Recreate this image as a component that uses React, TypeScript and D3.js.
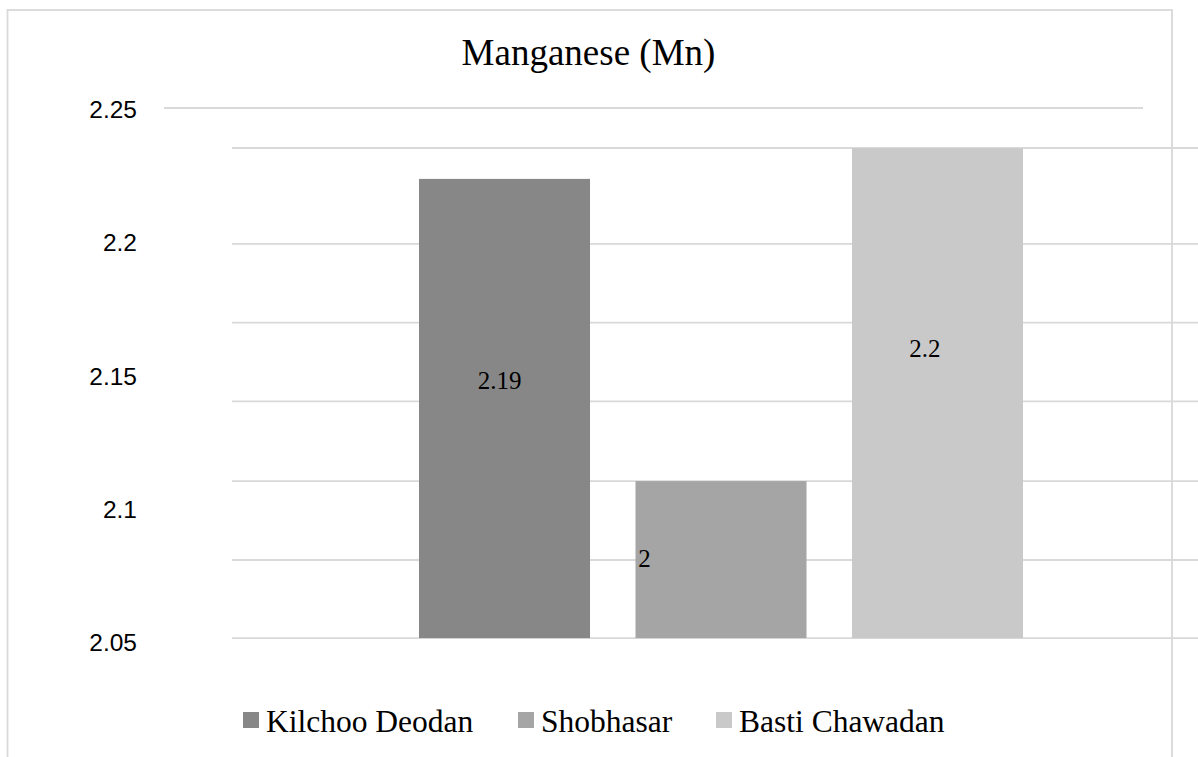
import React from "react";
import * as d3 from "d3";

const title = "Manganese (Mn)";
const categories = ["Kilchoo Deodan", "Shobhasar", "Basti Chawadan"];
const barValues = [2.2234, 2.11, 2.2349];
const dataLabels = ["2.19", "2", "2.2"];
const yTicks = [2.05, 2.1, 2.15, 2.2, 2.25];
const innerGrid = [2.0511, 2.0804, 2.11, 2.1399, 2.1695, 2.199, 2.235];
const barBase = 2.0511;
const colors = ["#878787", "#a5a5a5", "#c9c9c9"];

const W = 1198;
const H = 757;
const SERIF = "'Times New Roman', 'Liberation Serif', serif";
const SANS = "Arial, 'Liberation Sans', sans-serif";
const GRID = "#d9d9d9";

// layout constants (label placement as in the source figure)
const labelDx = [-5, -76.5, -12.5];
const labelBaseline = [389, 567, 357];
const legendX = [243, 518, 716];

export default function App() {
  const y = d3.scaleLinear().domain([2.05, 2.25]).range([641, 108]);
  const x = d3
    .scaleBand<string>()
    .domain(categories)
    .range([419, 1023])
    .paddingInner(0.21)
    .paddingOuter(0);

  return (
    <svg
      width={W}
      height={H}
      style={{ position: "absolute", left: 0, top: 0, background: "#fff" }}
    >
      <rect x={0} y={0} width={W} height={H} fill="#fff" />
      {/* outer chart border */}
      <rect x={7.5} y={10} width={1164.5} height={800} fill="none" stroke={GRID} strokeWidth={1.8} />
      {/* title */}
      <text x={588.5} y={65} textAnchor="middle" fontFamily={SERIF} fontSize={37} fill="#000">
        {title}
      </text>
      {/* outer axis: top gridline */}
      <line x1={164} x2={1143} y1={y(2.25)} y2={y(2.25)} stroke={GRID} strokeWidth={1.8} />
      {/* tick labels */}
      {yTicks.map((t) => (
        <text key={t} x={137} y={y(t) + 10} textAnchor="end" fontFamily={SANS} fontSize={24.5} fill="#000">
          {String(t)}
        </text>
      ))}
      {/* inner gridlines */}
      {innerGrid.map((g) => (
        <line key={g} x1={232} x2={W} y1={y(g)} y2={y(g)} stroke={GRID} strokeWidth={1.8} />
      ))}
      {/* bars */}
      {categories.map((c, i) => (
        <rect
          key={c}
          x={x(c)}
          y={y(barValues[i])}
          width={x.bandwidth()}
          height={y(barBase) - y(barValues[i])}
          fill={colors[i]}
        />
      ))}
      {/* data labels */}
      {categories.map((c, i) => (
        <text
          key={c}
          x={(x(c) as number) + x.bandwidth() / 2 + labelDx[i]}
          y={labelBaseline[i]}
          textAnchor="middle"
          fontFamily={SERIF}
          fontSize={25}
          fill="#000"
        >
          {dataLabels[i]}
        </text>
      ))}
      {/* legend */}
      {categories.map((c, i) => (
        <g key={c} transform={`translate(${legendX[i]},0)`}>
          <rect x={0} y={712} width={16} height={16} fill={colors[i]} />
          <text x={23} y={731.5} fontFamily={SERIF} fontSize={31.5} fill="#000">
            {c}
          </text>
        </g>
      ))}
    </svg>
  );
}
